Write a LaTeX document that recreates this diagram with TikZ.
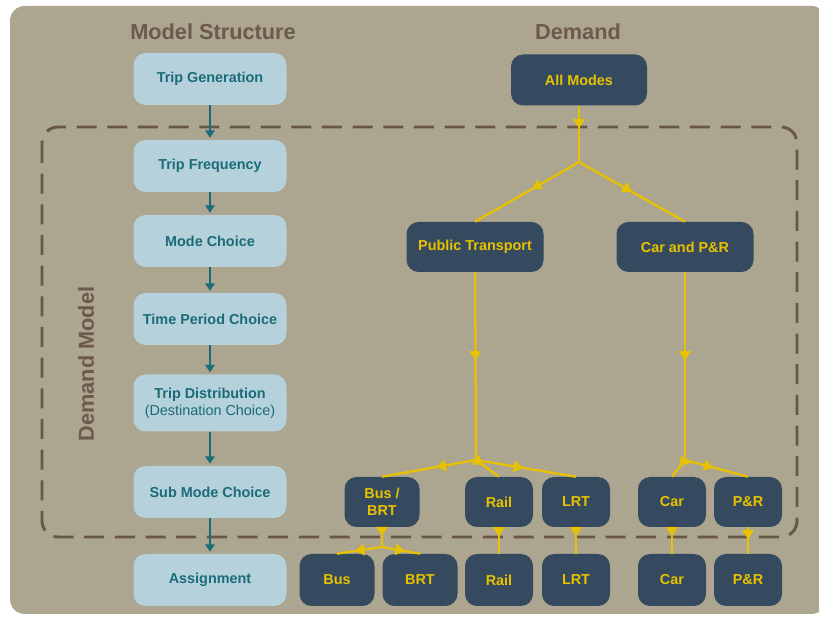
\documentclass[tikz,border=0pt]{standalone}
\usepackage{fontspec}
\setmainfont{Liberation Sans}
\usetikzlibrary{arrows.meta,decorations.markings}

\definecolor{panel}{RGB}{172,165,143}
\definecolor{frameline}{RGB}{104,86,70}
\definecolor{headbrown}{RGB}{108,90,76}
\definecolor{stepfill}{RGB}{181,209,219}
\definecolor{steptext}{RGB}{27,108,120}
\definecolor{modefill}{RGB}{53,74,94}
\definecolor{modetext}{RGB}{232,194,0}

\newcommand\pxu{0.75pt}

\tikzset{
  heading/.style={text=headbrown, font=\bfseries\fontsize{16.3}{18}\selectfont},
  stepbox/.style={fill=stepfill, rounded corners=9pt, text=steptext,
    minimum width=153*\pxu, minimum height=52*\pxu, inner sep=0pt,
    align=center, font=\bfseries\fontsize{10.8}{13}\selectfont},
  modebox/.style={fill=modefill, rounded corners=9pt, text=modetext,
    minimum height=50*\pxu, inner sep=0pt, align=center,
    font=\bfseries\fontsize{10.8}{13}\selectfont},
  flowarrow/.style={draw=steptext, line width=1.6pt,
    -{Triangle[width=7pt,length=5.5pt]}, shorten >=1.5pt},
  link/.style={draw=modetext, line width=1.7pt},
  midarr/.style={postaction={decorate, decoration={markings,
    mark=at position #1 with {\arrow{Triangle[width=8.5pt,length=7pt]}}}}},
}

\begin{document}
\begin{tikzpicture}[x=\pxu, y=-\pxu, modetext]
  \clip (0,0) rectangle (819,620);
  % panel
  \fill[panel, rounded corners=11pt] (10,6) rectangle (826,614);

  % demand model frame
  \draw[frameline, line width=2.2pt, dash pattern=on 15pt off 8pt,
        rounded corners=12pt] (42,127) rectangle (797,537);
  \node[heading, rotate=90] (dmlabel) at (86,364) {Demand Model};

  % headings
  \node[heading] (hstruct) at (213,32) {Model Structure};
  \node[heading] (hdemand) at (578,32) {Demand};

  % model structure steps
  \node[stepbox] (tg) at (210,79)  {Trip Generation};
  \node[stepbox] (tf) at (210,166) {Trip Frequency};
  \node[stepbox] (mc) at (210,241) {Mode Choice};
  \node[stepbox] (tp) at (210,319) {Time Period Choice};
  \node[stepbox, minimum height=57*\pxu] (td) at (210,403)
       {Trip Distribution\\{\mdseries(Destination Choice)}};
  \node[stepbox] (sm) at (210,492) {Sub Mode Choice};
  \node[stepbox] (as) at (210,580) {Assignment};

  \draw[flowarrow] (tg) -- (tf);
  \draw[flowarrow] (tf) -- (mc);
  \draw[flowarrow] (mc) -- (tp);
  \draw[flowarrow] (tp) -- (td);
  \draw[flowarrow] (td) -- (sm);
  \draw[flowarrow] (sm) -- (as);

  % demand tree
  \node[modebox, minimum width=136*\pxu, minimum height=51*\pxu] (all) at (579,80) {All Modes};
  \node[modebox, minimum width=137*\pxu] (pt)  at (475,247) {Public Transport};
  \node[modebox, minimum width=137*\pxu] (cpr) at (685,247) {Car and P\&R};

  \node[modebox, minimum width=75*\pxu] (busbrt) at (382,502) {Bus /\\BRT};
  \node[modebox, minimum width=68*\pxu] (rail1)  at (499,502) {Rail};
  \node[modebox, minimum width=68*\pxu] (lrt1)   at (576,502) {LRT};
  \node[modebox, minimum width=68*\pxu] (car1)   at (672,502) {Car};
  \node[modebox, minimum width=68*\pxu] (pr1)    at (748,502) {P\&R};

  \node[modebox, minimum width=75*\pxu, minimum height=52*\pxu] (bus)   at (337,580) {Bus};
  \node[modebox, minimum width=75*\pxu, minimum height=52*\pxu] (brt)   at (420,580) {BRT};
  \node[modebox, minimum width=68*\pxu, minimum height=52*\pxu] (rail2) at (499,580) {Rail};
  \node[modebox, minimum width=68*\pxu, minimum height=52*\pxu] (lrt2)  at (576,580) {LRT};
  \node[modebox, minimum width=68*\pxu, minimum height=52*\pxu] (car2)  at (672,580) {Car};
  \node[modebox, minimum width=68*\pxu, minimum height=52*\pxu] (pr2)   at (748,580) {P\&R};

  % branch points
  \coordinate (jall) at (579,162);
  \coordinate (jpt)  at (476,460);
  \coordinate (jcar) at (685,460);
  \coordinate (jbus) at (382,547);

  \draw[link, midarr=0.4]  (all) -- (jall);
  \draw[link, midarr=0.45] (jall) -- (pt.north);
  \draw[link, midarr=0.5]  (jall) -- (cpr.north);

  \draw[link, midarr=0.47] (pt) -- (jpt);
  \draw[link, midarr=0.42] (jpt) -- (busbrt.north);
  \draw[link, midarr=0.3]  (jpt) -- (rail1.north);
  \draw[link, midarr=0.47] (jpt) -- (lrt1.north);

  \draw[link, midarr=0.47] (cpr) -- (jcar);
  \draw[link, midarr=0.4]  (jcar) -- (car1.north);
  \draw[link, midarr=0.45] (jcar) -- (pr1.north);

  \draw[link, midarr=0.45] (busbrt) -- (jbus);
  \draw[link, midarr=0.6]  (jbus) -- (bus.north);
  \draw[link, midarr=0.6]  (jbus) -- (brt.north);

  \draw[link, midarr=0.35] (rail1) -- (rail2);
  \draw[link, midarr=0.35] (lrt1) -- (lrt2);
  \draw[link, midarr=0.35] (car1) -- (car2);
  \draw[link, midarr=0.45] (pr1) -- (pr2);
\end{tikzpicture}
\end{document}
